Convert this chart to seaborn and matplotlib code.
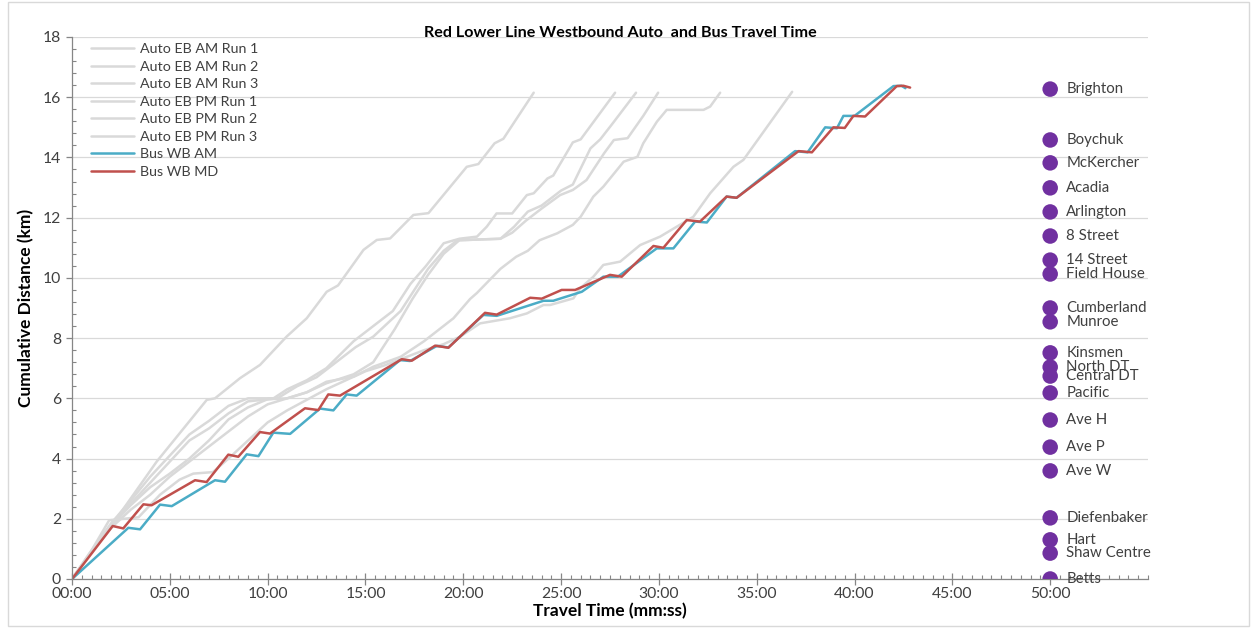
import matplotlib
matplotlib.use("Agg")
import matplotlib.pyplot as plt
from matplotlib.ticker import FuncFormatter, MultipleLocator
from matplotlib.patches import Rectangle
import seaborn as sns

# ---- travel-time trajectories: time in minutes, cumulative distance in km ----
auto_eb_am_run1_t = [0, 2.0, 4.33, 6.89, 7.31, 8.59, 9.61, 10.97, 12.0, 13.02, 13.6, 14.9,
                     15.58, 16.26, 17.45, 18.22, 20.18, 20.77, 21.6, 22.05, 23.6]
auto_eb_am_run1_d = [0, 1.75, 3.9, 5.95, 6.0, 6.67, 7.11, 8.05, 8.66, 9.54, 9.75, 10.93,
                     11.26, 11.31, 12.09, 12.15, 13.69, 13.78, 14.47, 14.62, 16.15]

auto_eb_am_run2_t = [0, 1.0, 2.0, 3.0, 4.0, 5.0, 6.0, 7.0, 8.0, 9.0, 10.3, 11.0, 12.0, 13.0,
                     14.4, 15.4, 16.4, 17.3, 18.1, 19.0, 19.8, 20.7, 21.2, 21.7, 22.5, 23.25,
                     23.6, 24.3, 24.6, 25.6, 26.0, 27.76]
auto_eb_am_run2_d = [0, 0.95, 1.85, 2.6, 3.4, 4.1, 4.8, 5.25, 5.75, 6.0, 6.0, 6.3, 6.6, 7.0,
                     7.9, 8.4, 8.9, 9.8, 10.4, 11.15, 11.3, 11.37, 11.7, 12.14, 12.14, 12.75,
                     12.81, 13.3, 13.4, 14.5, 14.6, 16.15]

auto_eb_am_run3_t = [0, 1.0, 2.0, 3.0, 4.0, 5.0, 6.0, 7.0, 8.0, 9.0, 10.5, 11.5, 12.5, 13.5,
                     14.5, 15.4, 16.8, 17.5, 18.2, 19.0, 19.7, 21.9, 22.6, 23.3, 24.0, 25.0,
                     25.6, 26.5, 27.0, 27.6, 28.83]
auto_eb_am_run3_d = [0, 0.9, 1.8, 2.5, 3.2, 3.9, 4.6, 5.0, 5.5, 5.9, 6.0, 6.4, 6.7, 7.2,
                     7.7, 8.05, 8.9, 9.6, 10.3, 10.9, 11.25, 11.3, 11.7, 12.2, 12.4, 12.9,
                     13.1, 14.3, 14.6, 15.1, 16.15]

auto_eb_pm_run1_t = [0, 1.0, 2.0, 3.0, 4.0, 5.0, 6.0, 7.0, 8.0, 9.0, 10.0, 11.0, 12.0, 13.0,
                     14.4, 15.4, 16.5, 17.4, 18.2, 19.0, 19.8, 21.9, 22.5, 23.2, 24.0, 24.95,
                     25.6, 26.3, 27.2, 27.7, 28.4, 29.2, 29.96]
auto_eb_pm_run1_d = [0, 0.9, 1.75, 2.45, 3.05, 3.5, 4.0, 4.6, 5.3, 5.7, 5.97, 6.0, 6.2, 6.5,
                     6.8, 7.2, 8.3, 9.3, 10.1, 10.8, 11.25, 11.3, 11.5, 11.9, 12.3, 12.75,
                     12.92, 13.25, 14.14, 14.58, 14.64, 15.38, 16.15]

auto_eb_pm_run2_t = [0, 1.0, 2.0, 3.0, 4.0, 5.0, 6.0, 7.0, 8.0, 9.0, 10.0, 11.0, 12.0, 13.0,
                     14.4, 15.4, 16.8, 18.0, 19.5, 20.35, 20.7, 21.9, 22.7, 23.3, 23.9, 24.8,
                     25.6, 26.0, 26.65, 27.16, 28.2, 28.9, 29.2, 29.9, 30.4, 32.28, 32.62, 33.13]
auto_eb_pm_run2_d = [0, 0.9, 1.7, 2.3, 2.8, 3.4, 3.9, 4.4, 4.9, 5.4, 5.8, 6.0, 6.2, 6.55,
                     6.72, 7.05, 7.38, 7.9, 8.66, 9.3, 9.5, 10.3, 10.7, 10.9, 11.25, 11.48,
                     11.76, 12.03, 12.7, 13.03, 13.86, 14.02, 14.47, 15.19, 15.58, 15.58, 15.69, 16.15]

auto_eb_pm_run3_t = [0, 1.0, 1.9, 3.4, 4.5, 5.5, 6.2, 7.2, 8.0, 9.0, 10.0, 11.0, 12.0, 13.0,
                     14.0, 15.0, 16.0, 17.0, 18.0, 19.0, 19.84, 20.86, 22.39, 23.25, 24.1,
                     24.44, 25.63, 25.97, 26.65, 27.16, 28.02, 29.04, 30.06, 30.91, 31.76,
                     32.62, 33.81, 34.32, 35.17, 36.81]
auto_eb_pm_run3_d = [0, 0.95, 1.95, 2.05, 2.8, 3.3, 3.5, 3.55, 4.0, 4.6, 5.2, 5.6, 5.95, 6.3,
                     6.6, 6.9, 7.1, 7.35, 7.6, 7.8, 8.05, 8.49, 8.66, 8.82, 9.1,
                     9.1, 9.32, 9.65, 10.04, 10.43, 10.54, 11.09, 11.37, 11.7, 12.03,
                     12.81, 13.69, 13.92, 14.69, 16.18]

bus_wb_am_t = [0, 2.88, 3.48, 4.5, 5.1, 7.31, 7.82, 8.93, 9.53, 10.29, 11.15, 12.68, 13.36,
               14.04, 14.55, 16.77, 17.28, 18.64, 19.24, 21.03, 21.71, 24.1, 24.6, 26.06,
               27.16, 27.9, 29.89, 30.74, 31.85, 32.45, 33.46, 33.97, 36.96, 37.6, 38.5,
               39.1, 39.43, 40.0, 41.99, 42.4, 42.6]
bus_wb_am_d = [0, 1.70, 1.65, 2.47, 2.42, 3.28, 3.23, 4.14, 4.08, 4.86, 4.82, 5.66, 5.60,
               6.13, 6.09, 7.27, 7.24, 7.74, 7.69, 8.77, 8.74, 9.24, 9.24, 9.54,
               10.04, 10.04, 10.98, 10.98, 11.87, 11.84, 12.70, 12.66, 14.21, 14.17, 15.0,
               14.97, 15.38, 15.38, 16.37, 16.38, 16.3]

bus_wb_md_t = [0, 2.08, 2.62, 3.65, 4.07, 6.29, 6.88, 7.99, 8.5, 9.61, 10.12, 11.91, 12.59,
               13.1, 13.7, 16.86, 17.37, 18.56, 19.24, 21.11, 21.71, 23.42, 24.01, 25.03,
               25.72, 27.5, 28.1, 29.72, 30.23, 31.42, 32.1, 33.46, 33.97, 37.14, 37.82,
               38.92, 39.5, 39.94, 40.54, 42.16, 42.5, 42.84]
bus_wb_md_d = [0, 1.76, 1.68, 2.48, 2.45, 3.28, 3.22, 4.13, 4.06, 4.88, 4.83, 5.67, 5.61,
               6.13, 6.09, 7.30, 7.25, 7.75, 7.68, 8.84, 8.78, 9.34, 9.31, 9.60,
               9.60, 10.10, 10.04, 11.06, 11.00, 11.92, 11.87, 12.70, 12.66, 14.21, 14.17,
               15.0, 14.98, 15.38, 15.36, 16.37, 16.38, 16.32]

series_names = ["Auto EB AM Run 1", "Auto EB AM Run 2", "Auto EB AM Run 3",
                "Auto EB PM Run 1", "Auto EB PM Run 2", "Auto EB PM Run 3",
                "Bus WB AM", "Bus WB MD"]
series_t = [auto_eb_am_run1_t, auto_eb_am_run2_t, auto_eb_am_run3_t,
            auto_eb_pm_run1_t, auto_eb_pm_run2_t, auto_eb_pm_run3_t,
            bus_wb_am_t, bus_wb_md_t]
series_d = [auto_eb_am_run1_d, auto_eb_am_run2_d, auto_eb_am_run3_d,
            auto_eb_pm_run1_d, auto_eb_pm_run2_d, auto_eb_pm_run3_d,
            bus_wb_am_d, bus_wb_md_d]
series_colors = ["#d9d9d9"] * 6 + ["#4bacc6", "#c0504d"]

# ---- stations along the route (cumulative km) ----
station_names = ["Brighton", "Boychuk", "McKercher", "Acadia", "Arlington", "8 Street",
                 "14 Street", "Field House", "Cumberland", "Munroe", "Kinsmen", "North DT",
                 "Central DT", "Pacific", "Ave H", "Ave P", "Ave W", "Diefenbaker", "Hart",
                 "Shaw Centre", "Betts"]
station_km = [16.27, 14.58, 13.82, 12.99, 12.19, 11.39, 10.59, 10.13, 9.0, 8.54, 7.51, 7.04,
              6.74, 6.18, 5.28, 4.38, 3.59, 2.03, 1.30, 0.86, 0.0]
station_time = 50  # minutes, column where the stations are listed

sns.set_theme(style="white")
plt.rcParams["font.family"] = ["Lato", "DejaVu Sans"]

W, H = 1252, 628
fig = plt.figure(figsize=(W / 100, H / 100), dpi=100)
ax = fig.add_axes([72 / W, 1 - 579 / H, (1148 - 72) / W, (579 - 37) / H])

for name, t, d, c in zip(series_names, series_t, series_d, series_colors):
    sns.lineplot(x=t, y=d, ax=ax, color=c, lw=1.8, label=name, sort=False,
                 estimator=None, solid_joinstyle="round", solid_capstyle="round")

sns.scatterplot(x=[station_time] * len(station_km), y=station_km, ax=ax,
                color="#7030a0", s=125, edgecolor="none", zorder=5, legend=False)
for name, km in zip(station_names, station_km):
    ax.annotate(name, (station_time, km), xytext=(11.5, 0), textcoords="offset points",
                va="center", ha="left", fontsize=10.8, color="#404040")

ax.set_xlim(0, 55)
ax.set_ylim(0, 18)
ax.xaxis.set_major_locator(MultipleLocator(5))
ax.xaxis.set_minor_locator(MultipleLocator(0.5))
ax.yaxis.set_major_locator(MultipleLocator(2))
ax.yaxis.set_minor_locator(MultipleLocator(0.4))
ax.set_xticks(range(0, 51, 5))
ax.xaxis.set_major_formatter(FuncFormatter(lambda v, p: f"{int(v):02d}:00"))

ax.grid(axis="y", color="#d9d9d9", lw=0.9)
ax.grid(axis="x", visible=False)
ax.set_axisbelow(True)
for s in ["top", "right"]:
    ax.spines[s].set_visible(False)
for s in ["left", "bottom"]:
    ax.spines[s].set_color("#868686")
    ax.spines[s].set_linewidth(0.9)

ax.tick_params(axis="x", which="major", direction="inout", length=8, width=0.9,
               color="#868686", labelsize=11.3, labelcolor="#404040", pad=2, bottom=True)
ax.tick_params(axis="x", which="minor", direction="in", length=3, width=0.8,
               color="#868686", bottom=True)
ax.tick_params(axis="y", which="major", direction="out", length=4, width=0.9,
               color="#868686", labelsize=11.3, labelcolor="#404040", pad=4, left=True)
ax.tick_params(axis="y", which="minor", direction="in", length=3, width=0.8,
               color="#868686", left=True)

ax.set_xlabel("Travel Time (mm:ss)", fontsize=12.5, fontweight="bold", color="#000000",
              labelpad=1)
ax.set_ylabel("Cumulative Distance (km)", fontsize=12.5, fontweight="bold", color="#000000",
              labelpad=6)

leg = ax.legend(loc="upper left", bbox_to_anchor=(0.01, 1.004), frameon=False, fontsize=10.3,
                handlelength=3.0, handletextpad=0.4, labelspacing=0.38, borderaxespad=0.2)
for txt in leg.get_texts():
    txt.set_color("#404040")

fig.text(620 / W, 1 - 33 / H, "Red Lower Line Westbound Auto  and Bus Travel Time",
         ha="center", va="center", fontsize=11.6, fontweight="bold", color="#000000")

# chart area border
fig.patches.append(Rectangle((8 / W, 2 / H), (1249 - 8) / W, (626 - 2) / H,
                             transform=fig.transFigure, fill=False,
                             edgecolor="#d9d9d9", lw=1.0))

fig.savefig("out.png", dpi=100)
